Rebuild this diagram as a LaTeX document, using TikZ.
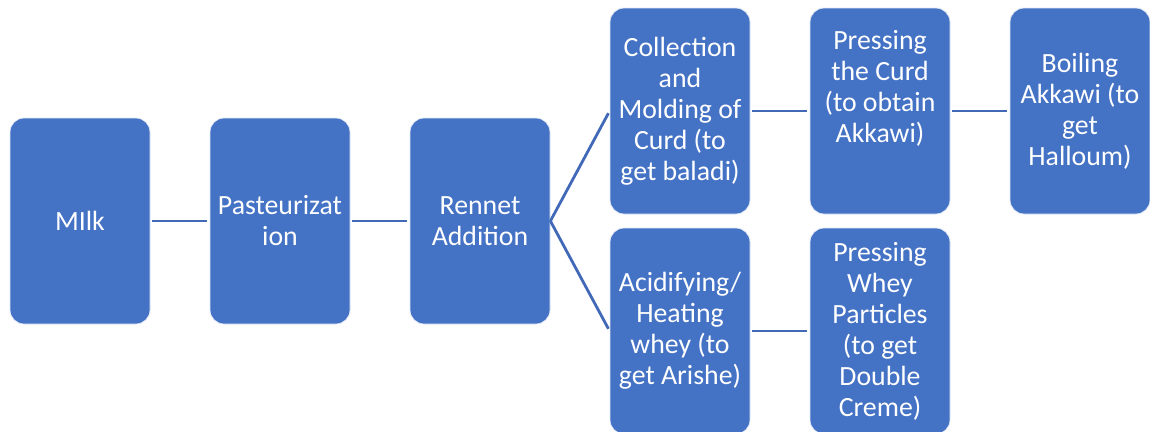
\documentclass[tikz,border=0pt]{standalone}
\usepackage{fontspec}
\setmainfont{Carlito}
\definecolor{boxblue}{HTML}{4472C4}
\definecolor{lineblue}{HTML}{4169B8}
\tikzset{
  procbox/.style={rectangle, rounded corners=14pt, fill=boxblue, draw=white!85!boxblue, line width=0.8pt,
    minimum width=140pt, minimum height=206pt, inner sep=0pt, align=center, text=white,
    font=\fontsize{27.8pt}{31pt}\selectfont},
  conn/.style={draw=lineblue, line width=2.8pt, shorten <=2pt, shorten >=2.5pt}
}
\begin{document}
\begin{tikzpicture}[x=1pt,y=1pt]
\useasboundingbox (0,0) rectangle (1150,-431);
\node[procbox] (milk) at (80,-221) {MIlk};
\node[procbox] (past) at (280,-221) {Pasteurizat\\ion};
\node[procbox] (rennet) at (480,-221) {Rennet\\Addition};
\node[procbox] (coll) at (680,-111) {Collection\\and\\Molding of\\Curd (to\\get baladi)};
\node[procbox, text depth=49pt] (presscurd) at (880,-111) {Pressing\\the Curd\\(to obtain\\Akkawi)};
\node[procbox] (boil) at (1080,-111) {Boiling\\Akkawi (to\\get\\Halloum)};
\node[procbox] (acid) at (680,-331) {Acidifying/\\Heating\\whey (to\\get Arishe)};
\node[procbox] (presswhey) at (880,-331) {Pressing\\Whey\\Particles\\(to get\\Double\\Creme)};
\draw[conn] (milk) -- (past);
\draw[conn] (past) -- (rennet);
\draw[conn, shorten <=0pt] (rennet.east) -- (coll.west);
\draw[conn, shorten <=0pt] (rennet.east) -- (acid.west);
\draw[conn] (coll) -- (presscurd);
\draw[conn] (presscurd) -- (boil);
\draw[conn] (acid) -- (presswhey);
\end{tikzpicture}
\end{document}
